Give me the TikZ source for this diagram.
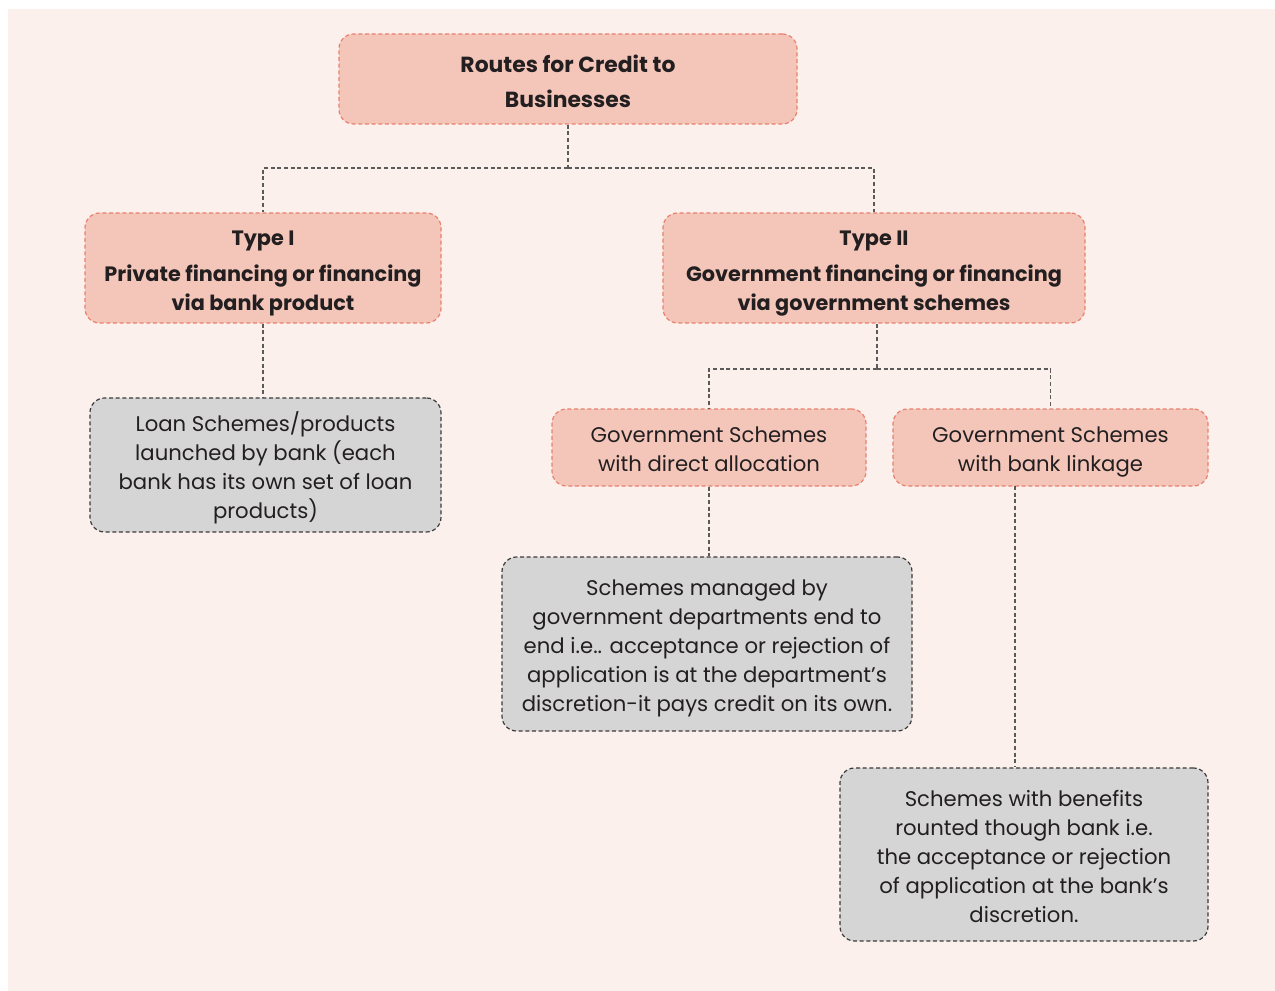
\documentclass[tikz,border=0pt]{standalone}
\usepackage{fontspec}
\setmainfont{Poppins}
\usetikzlibrary{calc}
\definecolor{bgpink}{HTML}{FCF0EC}
\definecolor{boxpink}{HTML}{F4C6BA}
\definecolor{edgepink}{HTML}{E8806D}
\definecolor{boxgray}{HTML}{D5D5D5}
\definecolor{edgegray}{HTML}{3A3A3A}
\definecolor{linegray}{HTML}{5A5A5A}
\definecolor{txt}{HTML}{231F20}
\newcommand\fstr{\rule{0pt}{\dimexpr0.7\baselineskip+6pt\relax}}
\newcommand\lstr{\rule[-0.3\baselineskip]{0pt}{0.3\baselineskip}}
\tikzset{
  boxbase/.style={line width=0.9pt, dash pattern=on 3pt off 2pt,
    rounded corners=11pt, align=center, inner sep=0pt, text=txt},
  pinkbox/.style={boxbase, draw=edgepink, fill=boxpink, font=\fontsize{15.9}{21.75}\selectfont},
  headbox/.style={boxbase, draw=edgepink, fill=boxpink, font=\fontsize{15.6}{21.75}\selectfont\bfseries},
  titlebox/.style={boxbase, draw=edgepink, fill=boxpink, font=\fontsize{16.4}{26.25}\selectfont\bfseries},
  graybox/.style={boxbase, draw=edgegray, fill=boxgray, font=\fontsize{15.9}{21.75}\selectfont},
  conn/.style={draw=linegray, line width=0.9pt, dash pattern=on 3pt off 2pt}
}
\begin{document}
\begin{tikzpicture}[x=0.75pt,y=-0.75pt]
\useasboundingbox (0,0) rectangle (1275,991);
\fill[white] (0,0) rectangle (1275,991);
\fill[bgpink] (8,9) rectangle (1275,991);

\node[titlebox, minimum width=458*0.75pt, minimum height=90*0.75pt] (top) at (568,79)
  {\fstr Routes for Credit to\\Businesses\lstr};
\node[headbox, minimum width=356*0.75pt, minimum height=110*0.75pt] (t1) at (263,268)
  {\fstr Type I\\[5pt]Private financing or financing\\via bank product\lstr};
\node[headbox, minimum width=422*0.75pt, minimum height=110*0.75pt] (t2) at (874,268)
  {\fstr Type II\\[5pt]Government financing or financing\\via government schemes\lstr};
\node[graybox, minimum width=351*0.75pt, minimum height=134*0.75pt] (loan) at (265.5,465)
  {\fstr Loan Schemes/products\\launched by bank (each\\bank has its own set of loan\\products)\lstr};
\node[pinkbox, minimum width=314*0.75pt, minimum height=77*0.75pt] (gd) at (709,447.5)
  {\fstr Government Schemes\\with direct allocation\lstr};
\node[pinkbox, minimum width=315*0.75pt, minimum height=77*0.75pt] (gb) at (1050.5,447.5)
  {\fstr Government Schemes\\with bank linkage\lstr};
\node[graybox, minimum width=410*0.75pt, minimum height=174*0.75pt] (sm) at (707,644)
  {\fstr Schemes managed by\\government departments end to\\end i.e.. acceptance or rejection of\\application is at the department’s\\discretion-it pays credit on its own.\lstr};
\node[graybox, minimum width=368*0.75pt, minimum height=173*0.75pt] (sb) at (1024,854.5)
  {\fstr Schemes with benefits\\rounted though bank i.e.\\the acceptance or rejection\\of application at the bank’s\\discretion.\lstr};

\coordinate (j1) at (568,168);
\coordinate (j2) at (877,369);
\coordinate (j3) at (1015,486);
\draw[conn] (top.south) -- (j1);
\draw[conn] (j1) -| (t1.north);
\draw[conn] (j1) -| (t2.north);
\draw[conn] (t1.south) -- (t1.south |- loan.north);
\draw[conn] (j2 |- t2.south) -- (j2);
\draw[conn] (j2) -| (gd.north);
\draw[conn] (j2) -| (gb.north);
\draw[conn] (gd.south) -- (gd.south |- sm.north);
\draw[conn] (j3) -- (j3 |- sb.north);
\end{tikzpicture}
\end{document}
